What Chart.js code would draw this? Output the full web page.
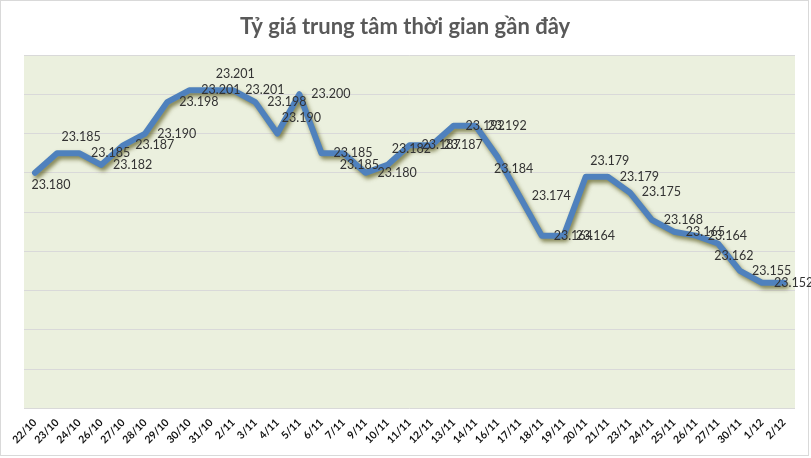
<!DOCTYPE html>
<html>
<head>
<meta charset="utf-8">
<script src="https://cdn.jsdelivr.net/npm/chart.js@4/dist/chart.umd.min.js"></script>
<style>
html,body{margin:0;padding:0;background:#fff;}
#wrap{width:811px;height:458px;position:relative;}
</style>
</head>
<body>
<div id="wrap"><canvas id="c" width="811" height="458"></canvas></div>
<script>
const chartTitle = 'Tỷ giá trung tâm thời gian gần đây';
const categories = ['22/10','23/10','24/10','26/10','27/10','28/10','29/10','30/10','31/10','2/11','3/11','4/11','5/11','6/11','7/11','9/11','10/11','11/11','12/11','13/11','14/11','16/11','17/11','18/11','19/11','20/11','21/11','23/11','24/11','25/11','26/11','27/11','30/11','1/12','2/12'];
const rates = [23.180,23.185,23.185,23.182,23.187,23.190,23.198,23.201,23.201,23.201,23.198,23.190,23.200,23.185,23.185,23.180,23.182,23.187,23.187,23.192,23.192,23.184,23.174,23.164,23.164,23.179,23.179,23.175,23.168,23.165,23.164,23.162,23.155,23.152,23.152];
const yMin = 23.12, yMax = 23.21, yStep = 0.01;
// label placement codes: R = right, A = above, B = below, N = none
const labelPlacement = ['B','A','R','R','R','R','R','R','A','R','R','A','R','R','B','R','A','R','R','R','R','B','R','R','R','A','R','R','R','R','R','B','R','R','N'];

const FONT = 'Lato, "Open Sans", sans-serif';

const frame = {
  id: 'frame',
  beforeDraw(chart) {
    const {ctx, chartArea: a} = chart;
    ctx.save();
    ctx.fillStyle = '#fff';
    ctx.fillRect(0, 0, chart.width, chart.height);
    ctx.fillStyle = '#EBF0DE';
    ctx.fillRect(a.left, a.top, a.right - a.left, a.bottom - a.top);
    ctx.strokeStyle = '#D9D9D9';
    ctx.lineWidth = 1;
    ctx.strokeRect(0.5, 0.5, 808, 455);
    ctx.fillStyle = '#595959';
    ctx.font = 'bold 22px ' + FONT;
    ctx.textAlign = 'center';
    ctx.textBaseline = 'middle';
    ctx.fillText(chartTitle, 405, 27);
    ctx.restore();
  },
  beforeDatasetsDraw(chart) {
    const ctx = chart.ctx;
    ctx.save();
    ctx.shadowColor = 'rgba(90,90,30,0.75)';
    ctx.shadowBlur = 4;
    ctx.shadowOffsetX = 2;
    ctx.shadowOffsetY = 3;
  },
  afterDatasetsDraw(chart) {
    const ctx = chart.ctx;
    ctx.restore();
    const meta = chart.getDatasetMeta(0);
    ctx.save();
    ctx.font = '12.5px ' + FONT;
    ctx.fillStyle = '#333333';
    ctx.textBaseline = 'middle';
    meta.data.forEach((pt, i) => {
      const code = labelPlacement[i];
      if (code === 'N') return;
      const txt = rates[i].toFixed(3);
      const w = ctx.measureText(txt).width;
      let cx = pt.x + 12 + w / 2, cy = pt.y;
      if (code === 'A') { cx = pt.x + 24; cy = pt.y - 16; }
      if (code === 'B') { cx = pt.x + 16; cy = pt.y + 12; }
      ctx.textAlign = 'center';
      ctx.fillText(txt, cx, cy);
    });
    ctx.restore();
  }
};

new Chart(document.getElementById('c'), {
  type: 'line',
  data: {
    labels: categories,
    datasets: [{
      data: rates,
      borderColor: '#4F81BD',
      borderWidth: 6,
      tension: 0,
      pointRadius: 0,
      borderJoinStyle: 'round',
      borderCapStyle: 'round',
      fill: false
    }]
  },
  options: {
    responsive: false,
    animation: false,
    devicePixelRatio: 1,
    layout: { padding: { left: 24, right: 16, top: 55, bottom: 4 } },
    plugins: { legend: { display: false }, title: { display: false }, tooltip: { enabled: false } },
    scales: {
      x: {
        offset: true,
        grid: { display: false, drawTicks: false },
        border: { display: false },
        ticks: {
          autoSkip: false,
          minRotation: 45,
          maxRotation: 45,
          padding: 8,
          color: '#111',
          font: { family: FONT, size: 10.5, weight: 'bold' }
        }
      },
      y: {
        min: yMin,
        max: yMax,
        grid: { color: '#D9D9D9', lineWidth: 1, drawTicks: false },
        border: { display: false },
        ticks: { display: false, stepSize: yStep }
      }
    }
  },
  plugins: [frame]
});
</script>
</body>
</html>
